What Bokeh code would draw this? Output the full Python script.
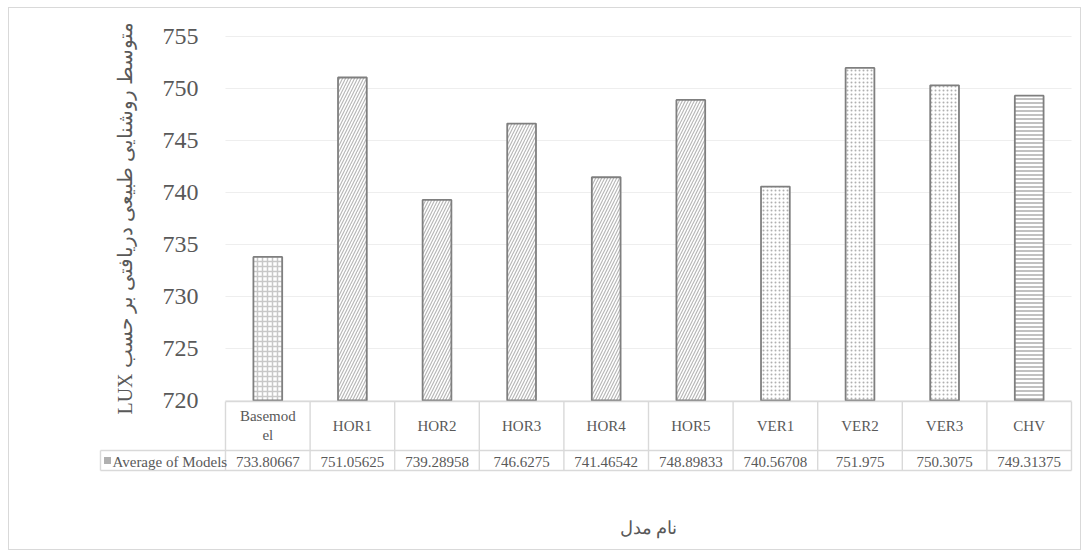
from bokeh.plotting import figure
from bokeh.layouts import column
from bokeh.models import Range1d, FixedTicker, ColumnDataSource, LinearAxis
from bokeh.embed import file_html
from bokeh.resources import INLINE
from bokeh.core.properties import value

# ---------------- data ----------------
categories = ["Basemodel", "HOR1", "HOR2", "HOR3", "HOR4", "HOR5", "VER1", "VER2", "VER3", "CHV"]
category_labels = ["Basemod\nel", "HOR1", "HOR2", "HOR3", "HOR4", "HOR5", "VER1", "VER2", "VER3", "CHV"]
values = [733.80667, 751.05625, 739.28958, 746.6275, 741.46542, 748.89833, 740.56708, 751.975, 750.3075, 749.31375]
series_name = "Average of Models"
y_ticks = [720, 725, 730, 735, 740, 745, 750, 755]
y_title = "متوسط روشنایی طبیعی دریافتی بر حسب LUX"
x_title = "نام مدل"

# ---------------- styles ----------------
hatch_patterns = ["+", "/", "/", "/", "/", "/", ".", ".", ".", "-"]
hatch_scales = [5, 6, 6, 6, 6, 6, 4, 4, 4, 4]
hatch_weights = [1.5, 1.2, 1.2, 1.2, 1.2, 1.2, 1.5, 1.5, 1.5, 1.4]
hatch_colors = ["#c8c8c8", "#b8b8b8", "#b8b8b8", "#b8b8b8", "#b8b8b8", "#b8b8b8",
                "#b0b0b0", "#b0b0b0", "#b0b0b0", "#a6a6a6"]
TEXT = "#595959"
GRID = "#eeeeee"
BORDER = "#d9d9d9"
SERIF = "Liberation Serif"

# ---------------- layout (page pixels) ----------------
MARGIN_L, MARGIN_T = 8, 7
X0 = MARGIN_L + 1          # content left on the page (margin + border)
Y0 = MARGIN_T + 1          # content top on the page
W = 1071
H = 541
AXIS_L = 225       # left edge of category area
AXIS_R = 1071
FRAME_L = 98
FRAME_R = 1074
FRAME_T = Y0       # drawing area starts at the very top
FRAME_B = Y0 + H   # bottom of drawing
TOP_Y = 36         # where y_max sits
AXIS_Y = 400       # where y_min sits
TABLE_L = 100
N = len(categories)
COLW = (AXIS_R - AXIS_L) / N
YMIN, YMAX = y_ticks[0], y_ticks[-1]
PXU = (AXIS_Y - TOP_Y) / (YMAX - YMIN)


def ypx(page_y):
    """data y of a page row"""
    return YMIN - (page_y - AXIS_Y) / PXU


def xpx(page_x):
    return (page_x - AXIS_L) / COLW


p = figure(width=W, height=H,
           x_range=Range1d(xpx(FRAME_L), xpx(FRAME_R)),
           y_range=Range1d(ypx(FRAME_B), ypx(FRAME_T)),
           x_axis_location=None, y_axis_location=None,
           output_backend="svg", toolbar_location=None,
           min_border_left=FRAME_L - X0, min_border_right=X0 + W - FRAME_R,
           min_border_top=FRAME_T - Y0, min_border_bottom=0)
p.outline_line_color = None
p.grid.visible = False

# y axis, pinned at the left edge of the category area
yaxis = LinearAxis(fixed_location=0, bounds=(YMIN, YMAX), ticker=FixedTicker(ticks=y_ticks))
yaxis.axis_line_color = None
yaxis.major_tick_line_color = None
yaxis.minor_tick_line_color = None
yaxis.major_label_text_font = SERIF
yaxis.major_label_text_font_size = "24px"
yaxis.major_label_text_color = TEXT
yaxis.major_label_standoff = 21
yaxis.axis_label = "\u202B" + y_title + "\u202C"
yaxis.axis_label_text_font = SERIF
yaxis.axis_label_text_font_size = "20px"
yaxis.axis_label_text_font_style = "normal"
yaxis.axis_label_text_color = TEXT
yaxis.axis_label_standoff = 24
p.add_layout(yaxis, "left")

# horizontal gridlines across the category area
p.segment(x0=[0] * len(y_ticks), x1=[N] * len(y_ticks), y0=y_ticks, y1=y_ticks,
          line_color=GRID, line_width=1.2)

xs = [i + 0.5 for i in range(N)]
src = ColumnDataSource(dict(x=xs, top=values, hp=hatch_patterns, hs=hatch_scales,
                            hw=hatch_weights, hc=hatch_colors))
p.vbar(x="x", top="top", bottom=YMIN, width=0.34, source=src,
       fill_color="white", line_color="#7f7f7f", line_width=1.8,
       hatch_pattern="hp", hatch_scale="hs", hatch_weight="hw", hatch_color="hc")

# ---------------- data table ----------------
left = xpx(TABLE_L)
r_top, r_mid, r_bot = ypx(401), ypx(450), ypx(470)
x0s = [0, left, left, left] + [float(i) for i in range(N + 1)]
x1s = [N, N, N, left] + [float(i) for i in range(N + 1)]
y0s = [r_top, r_mid, r_bot, r_mid] + [r_top] * (N + 1)
y1s = [r_top, r_mid, r_bot, r_bot] + [r_bot] * (N + 1)
p.segment(x0=x0s, y0=y0s, x1=x1s, y1=y1s, line_color=BORDER, line_width=1.4)

p.text(x=xs, y=[ypx(425)] * N, text=category_labels,
       text_align="center", text_baseline="middle", text_font=value(SERIF),
       text_font_size="15px", text_color=TEXT, text_line_height=1.15)
p.text(x=xs, y=[ypx(461)] * N, text=[str(v) for v in values],
       text_align="center", text_baseline="middle", text_font=value(SERIF),
       text_font_size="15px", text_color=TEXT)

p.scatter(x=[xpx(107)], y=[ypx(460)], marker="square", size=7,
          fill_color="#b0b0b0", line_color=None)
p.text(x=[xpx(112)], y=[ypx(461)], text=[series_name],
       text_align="left", text_baseline="middle", text_font=value(SERIF),
       text_font_size="15px", text_color=TEXT)

p.text(x=[N / 2], y=[ypx(527)], text=[x_title], text_align="center", text_baseline="middle",
       text_font=value(SERIF), text_font_size="18px", text_color=TEXT)

layout = column(p, spacing=0, styles={"border": "1px solid #d9d9d9",
                                      "margin-left": f"{MARGIN_L}px",
                                      "margin-top": f"{MARGIN_T}px"})

open("out.html", "w").write(file_html(layout, INLINE))
